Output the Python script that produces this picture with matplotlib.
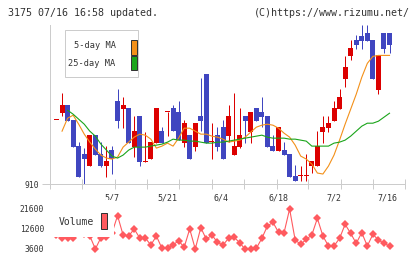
import numpy as np
import matplotlib
matplotlib.use("Agg")
import matplotlib.pyplot as plt
from matplotlib.patches import Rectangle
from matplotlib.transforms import blended_transform_factory

# daily candles, oldest first (yen)
opens = [974, 981, 989, 974, 948, 940, 928, 959, 940, 928,
         944, 993, 985, 986, 947, 978, 932, 935, 951, 963,
         982, 986, 982, 951, 959, 947, 978, 1020, 952, 959,
         967, 958, 939, 947, 978, 962, 986, 982, 978, 948,
         943, 944, 940, 918, 918, 918, 928, 928, 962, 966,
         973, 985, 1015, 1038, 1054, 1058, 1061, 1054, 1004, 1061,
         1061]
highs = [974, 1001, 989, 974, 952, 946, 959, 959, 952, 948,
         948, 1005, 997, 986, 978, 978, 962, 952, 986, 967,
         982, 989, 993, 974, 959, 971, 1016, 1020, 971, 967,
         974, 989, 1001, 986, 978, 982, 986, 997, 978, 959,
         967, 952, 940, 929, 928, 940, 933, 963, 978, 978,
         993, 1005, 1038, 1054, 1059, 1069, 1069, 1054, 1039, 1061,
         1061]
lows = [974, 978, 973, 947, 917, 910, 928, 939, 927, 917,
        920, 966, 966, 951, 937, 928, 932, 935, 951, 951,
        958, 963, 954, 947, 935, 943, 963, 951, 935, 943,
        935, 952, 939, 946, 951, 951, 973, 967, 947, 943,
        943, 939, 917, 913, 913, 913, 921, 928, 951, 962,
        973, 985, 1007, 1034, 1045, 1045, 1053, 1015, 1000, 1041,
        1041]
closes = [974, 989, 973, 947, 917, 935, 959, 939, 928, 933,
          935, 973, 989, 951, 963, 932, 933, 952, 986, 951,
          982, 963, 954, 971, 935, 971, 973, 951, 952, 947,
          935, 978, 948, 959, 973, 982, 973, 977, 947, 943,
          967, 939, 917, 913, 918, 918, 933, 948, 967, 971,
          986, 997, 1027, 1046, 1049, 1053, 1053, 1015, 1039, 1045,
          1049]

nan = np.nan
ma5 = [nan, 963, 976, 979, 970, 960, 952, 945, 939, 936,
       935, 937, 947, 952, 957, 960, 959, 955, 946, 948,
       951, 948, 956, 966, 966, 963, 960, 960, 958, 957,
       955, 952, 953, 954, 957, 962, 967, 969, 970, 969,
       966, 961, 957, 949, 938, 935, 930, 921, 920, 928,
       939, 954, 970, 985, 1000, 1017, 1031, 1038, 1039, 1039,
       1039]
ma25 = [nan, nan, 984, 980, 975, 970, 963, 958, 950, 944,
        938, 936, 939, 944, 947, 947, 947, 948, 949, 950,
        952, 955, 954, 954, 953, 953, 952, 951, 951, 952,
        952, 953, 954, 955, 956, 957, 958, 959, 957, 956,
        956, 956, 955, 955, 954, 953, 948, 948, 948, 948,
        951, 952, 954, 958, 963, 968, 971, 971, 973, 977,
        981]

volume = [10000, 8700, 8700, 8700, 11000, 10500, 9500, 3600, 8700, 9000,
          10800, 18600, 9900, 9450, 12600, 8550, 8550, 5400, 9450, 3900,
          3900, 5400, 7350, 4350, 12600, 3600, 13200, 7950, 9900, 6600,
          5400, 8400, 8850, 6450, 3450, 3450, 3900, 8400, 13950, 15600,
          11100, 10950, 21600, 7650, 5700, 7950, 9900, 17400, 9450, 4950,
          4950, 8400, 14700, 10650, 6150, 10950, 4950, 10200, 7650, 6150,
          4950]

date_labels = ["5/7", "5/21", "6/4", "6/18", "7/2", "7/16"]
date_pos = [10, 20, 29.7, 40, 50, 59.6]
tick_pos = [-1.17, 4.59, 10.54, 16.31, 22.07, 28.02, 33.78, 39.73, 45.32, 51.26, 57.03, 62.79]
vol_ticks = [21600, 12600, 3600]

UP = "#dc0000"
DOWN = "#4046c0"
ORANGE = "#f39019"
GREEN = "#1aa51a"
VOLC = "#ff5a5f"
TXT = "#333333"
GRID = "#cccccc"
px = 0.72  # one pixel in points

plt.rcParams["font.family"] = ["DejaVu Sans Mono"]

fig = plt.figure(figsize=(4.2, 2.59), dpi=100)
ax = fig.add_axes([50 / 420, 1 - 184 / 259, 355 / 420, 159 / 259])
axv = fig.add_axes([50 / 420, 1 - 252 / 259, 355 / 420, 47 / 259])

x = np.arange(len(opens))
o = np.array(opens, float)
c = np.array(closes, float)
colors = [UP if cc >= oo else DOWN for oo, cc in zip(o, c)]

ax.vlines(x, lows, highs, colors=colors, lw=px, zorder=2)
ax.bar(x, np.maximum(np.abs(c - o), 1.0), bottom=np.minimum(o, c), width=0.9,
       color=colors, lw=0, zorder=3)
ax.plot(x, ma5, color=ORANGE, lw=0.8, zorder=4)
ax.plot(x, ma25, color=GREEN, lw=0.8, zorder=4)

ax.set_xlim(-1.17, 62.79)
ax.set_ylim(910, 1069.5)
for s in ["top", "right"]:
    ax.spines[s].set_visible(False)
for s in ["left", "bottom"]:
    ax.spines[s].set_color(GRID)
    ax.spines[s].set_linewidth(px)
ax.set_xticks(tick_pos)
ax.set_xticklabels([])
ax.tick_params(axis="x", direction="inout", length=7, width=px, color=GRID)
ax.set_yticks([910])
ax.set_yticklabels(["910"])
ax.tick_params(axis="y", direction="out", length=6, width=px, color=GRID,
               labelsize=5.8, labelcolor=TXT, pad=2)

trans = blended_transform_factory(ax.transData, ax.transAxes)
for lab, p in zip(date_labels, date_pos):
    ax.text(p, -0.091, lab, transform=trans, ha="center", va="center",
            fontsize=6, color=TXT)

# moving average legend
ax.add_patch(Rectangle((0.042, 0.673), 0.206, 0.296, transform=ax.transAxes,
                       facecolor="white", edgecolor=GRID, lw=px, zorder=6))
ax.text(0.185, 0.868, "5-day MA", transform=ax.transAxes, ha="right", va="center",
        fontsize=6.2, color=TXT, zorder=7)
ax.text(0.185, 0.758, "25-day MA", transform=ax.transAxes, ha="right", va="center",
        fontsize=6.2, color=TXT, zorder=7)
ax.add_patch(Rectangle((0.228, 0.811), 0.016, 0.094, transform=ax.transAxes,
                       facecolor=ORANGE, edgecolor=TXT, lw=px, zorder=7))
ax.add_patch(Rectangle((0.228, 0.714), 0.016, 0.094, transform=ax.transAxes,
                       facecolor=GREEN, edgecolor=TXT, lw=px, zorder=7))

# volume panel
axv.plot(x, volume, color=VOLC, lw=0.8, marker="D", markersize=3.6,
         markeredgewidth=0, zorder=2)
axv.set_xlim(-1.17, 62.79)
axv.set_ylim(2250, 23400)
for s in axv.spines.values():
    s.set_visible(False)
axv.set_xticks([])
axv.set_yticks(vol_ticks)
axv.set_yticklabels([str(v) for v in vol_ticks])
axv.tick_params(axis="y", length=0, pad=4.3, labelsize=5.8, labelcolor=TXT)
axv.add_patch(Rectangle((0, 0.313), 0.18, 0.8, transform=axv.transAxes,
                        facecolor="white", edgecolor="none", zorder=3,
                        clip_on=False))
axv.text(0.124, 0.638, "Volume", transform=axv.transAxes, ha="right", va="center",
         fontsize=7, color=TXT, zorder=4)
axv.add_patch(Rectangle((0.144, 0.5), 0.017, 0.32, transform=axv.transAxes,
                        facecolor=VOLC, edgecolor=TXT, lw=px, zorder=4))

fig.text(8 / 420, 1 - 13 / 259, "3175 07/16 16:58 updated.", ha="left", va="center",
         fontsize=7.2, color=TXT)
fig.text(410 / 420, 1 - 13 / 259, "(C)https://www.rizumu.net/", ha="right", va="center",
         fontsize=7.2, color=TXT)

fig.savefig("out.png", dpi=100, facecolor="white")
